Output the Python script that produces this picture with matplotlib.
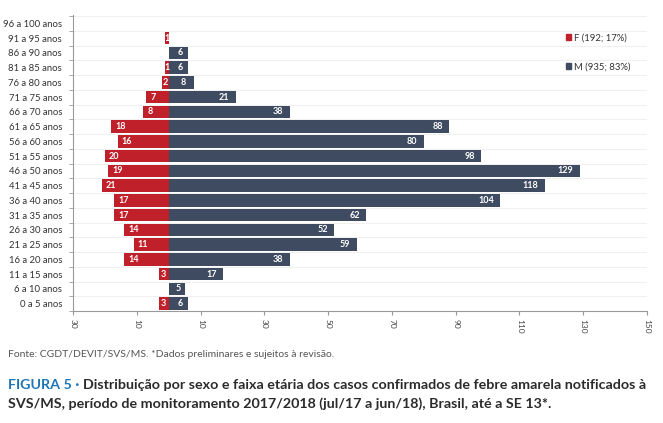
import matplotlib
matplotlib.use("Agg")
import matplotlib.pyplot as plt
from matplotlib.patches import Patch
import numpy as np

plt.rcParams['font.family'] = ['Lato', 'DejaVu Sans']

age_groups = ["0 a 5 anos", "6 a 10 anos", "11 a 15 anos", "16 a 20 anos", "21 a 25 anos",
              "26 a 30 anos", "31 a 35 anos", "36 a 40 anos", "41 a 45 anos", "46 a 50 anos",
              "51 a 55 anos", "56 a 60 anos", "61 a 65 anos", "66 a 70 anos", "71 a 75 anos",
              "76 a 80 anos", "81 a 85 anos", "86 a 90 anos", "91 a 95 anos", "96 a 100 anos"]
female = [3, 0, 3, 14, 11, 14, 17, 17, 21, 19, 20, 16, 18, 8, 7, 2, 1, 0, 1, 0]
male = [6, 5, 17, 38, 59, 52, 62, 104, 118, 129, 98, 80, 88, 38, 21, 8, 6, 6, 0, 0]
legend_labels = ["F (192; 17%)", "M (935; 83%)"]
x_ticks = [-30, -10, 10, 30, 50, 70, 90, 110, 130, 150]

RED = "#c0202a"
NAVY = "#3f4b61"

fig = plt.figure(figsize=(6.63, 4.23), dpi=100)
ax = fig.add_axes([73/663, 1-311/423, (647-73)/663, (311-15)/423])

y = np.arange(len(age_groups))
ax.barh(y, [-v for v in female], height=0.86, color=RED, zorder=3)
ax.barh(y, male, height=0.86, color=NAVY, zorder=3)

for yi, v in zip(y, female):
    if v <= 0:
        continue
    if v >= 5:
        ax.text(-v + 1.3, yi, str(v), ha='left', va='center', color='white',
                fontsize=6.5, fontweight='bold', zorder=4)
    else:
        ax.text(-v / 2 - 0.1, yi, str(v), ha='center', va='center', color='white',
                fontsize=6.5, fontweight='bold', zorder=4)
for yi, v in zip(y, male):
    if v <= 0:
        continue
    if v >= 10:
        ax.text(v - 2.0, yi, str(v), ha='right', va='center', color='white',
                fontsize=6.5, fontweight='bold', zorder=4)
    else:
        ax.text(v / 2 + 0.5, yi, str(v), ha='center', va='center', color='white',
                fontsize=6.5, fontweight='bold', zorder=4)

ax.set_xlim(-30, 150)
ax.set_ylim(-0.5, len(age_groups) - 0.5 + 0.07)
ax.set_xticks(x_ticks)
ax.set_xticklabels([str(abs(t)) for t in x_ticks], rotation=270, fontsize=6, color='#444444')
ax.set_yticks(y)
ax.set_yticklabels(age_groups, fontsize=6.8, color='#333333')
ax.set_yticks(np.arange(-0.5, len(age_groups), 1), minor=True)
ax.tick_params(axis='y', which='major', length=0, pad=8)
ax.tick_params(axis='y', which='minor', length=3, color='#999999')
ax.tick_params(axis='x', length=3, color='#999999', pad=3)
ax.grid(axis='y', which='minor', color='#f0f0f0', linewidth=0.8, zorder=0)
for s in ['top', 'right']:
    ax.spines[s].set_visible(False)
for s in ['left', 'bottom']:
    ax.spines[s].set_color('#999999')
    ax.spines[s].set_linewidth(0.8)

handles = [Patch(color=RED), Patch(color=NAVY)]
leg = ax.legend(handles, legend_labels, loc='upper left', bbox_to_anchor=(562/663, 1-30/423),
                bbox_transform=fig.transFigure, frameon=False, fontsize=6.8,
                handlelength=0.6, handleheight=0.6, handletextpad=0.3, labelspacing=2.1,
                borderaxespad=0)
for t in leg.get_texts():
    t.set_color('#333333')

fig.text(8/663, 1-354/423, "Fonte: CGDT/DEVIT/SVS/MS. *Dados preliminares e sujeitos à revisão.",
         fontsize=7.5, color='#555555', va='center', ha='left')

fig.canvas.draw()
renderer = fig.canvas.get_renderer()
t1 = fig.text(8/663, 1-385/423, "FIGURA 5 \u00b7 ", fontsize=10.3, fontweight='bold',
              color='#1c75b4', va='center', ha='left')
bb = t1.get_window_extent(renderer=renderer)
x2 = bb.x1 / fig.bbox.width
fig.text(x2, 1-385/423, "Distribuição por sexo e faixa etária dos casos confirmados de febre amarela notificados à",
         fontsize=10.3, fontweight='bold', color='#2b2b2b', va='center', ha='left')
fig.text(8/663, 1-404/423, "SVS/MS, período de monitoramento 2017/2018 (jul/17 a jun/18), Brasil, até a SE 13*.",
         fontsize=10.3, fontweight='bold', color='#2b2b2b', va='center', ha='left')

fig.savefig("out.png", dpi=100)
